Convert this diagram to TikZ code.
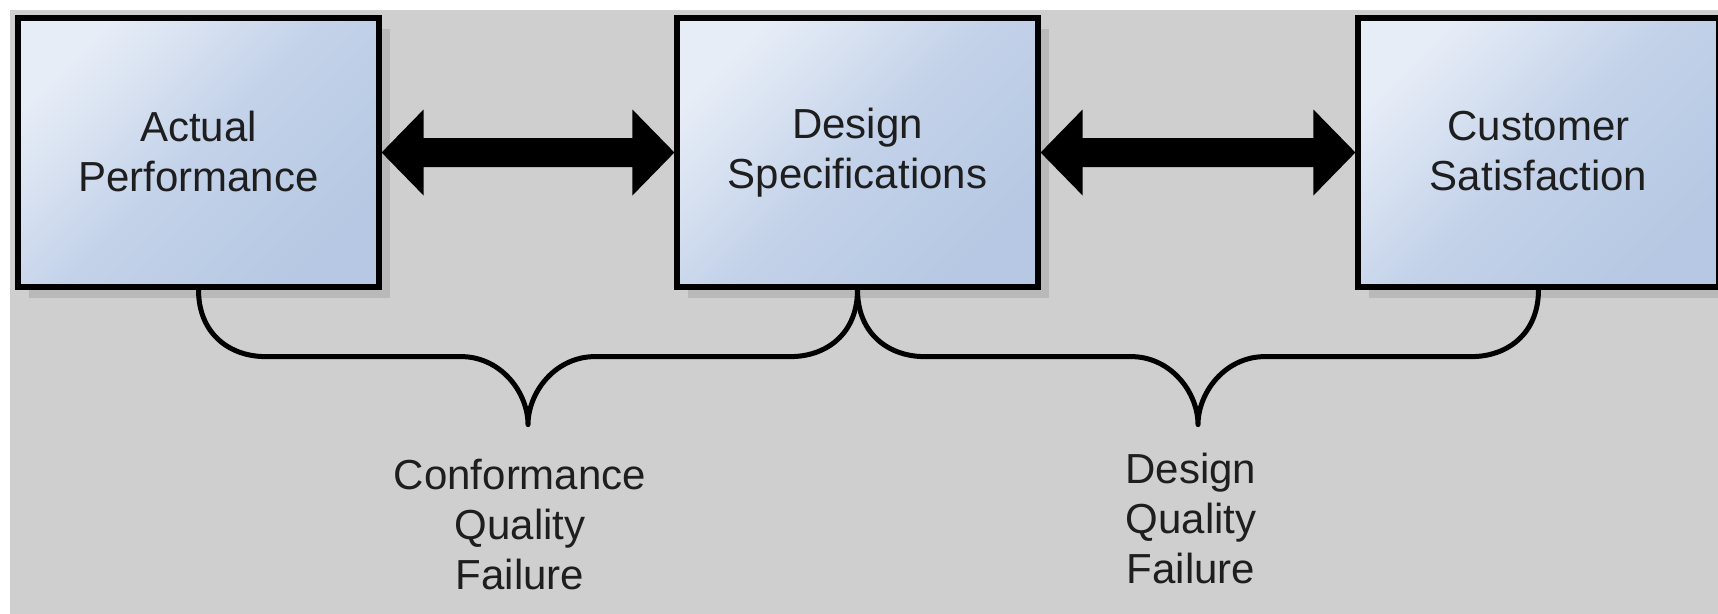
\documentclass[tikz,border=0pt]{standalone}
\usepackage{fontspec}
\setmainfont{Liberation Sans}
\usetikzlibrary{calc,shadows}
\definecolor{bg}{HTML}{CFCFCF}
\definecolor{shadowc}{HTML}{B9B9B9}
\definecolor{boxlight}{HTML}{E7EDF7}
\definecolor{boxmid}{HTML}{C3D2E9}
\definecolor{boxdark}{HTML}{B6C8E3}
\definecolor{txt}{HTML}{1E1E1E}
\begin{document}
\begin{tikzpicture}[x=1pt,y=-1pt,
  lblstrut/.style={execute at begin node={\rule{0pt}{35pt}}, execute at end node={\rule[-12pt]{0pt}{12pt}}},
  boxstrut/.style={execute at begin node={\rule{0pt}{35pt}}, execute at end node={\rule[-3pt]{0pt}{3pt}}},
  qbox/.style={draw=black, line width=5.2pt, minimum width=361pt, minimum height=269pt,
    inner sep=0pt, align=center, font=\fontsize{42}{50}\selectfont, text=txt, boxstrut,
    top color=boxlight, bottom color=boxdark, middle color=boxmid, shading angle=45,
    drop shadow={shadow xshift=11pt, shadow yshift=-11pt, fill=shadowc, opacity=1, draw=none}},
  bigarrow/.style={fill=black},
  brace/.style={draw=black, line width=5pt, line join=round},
  lbl/.style={align=center, font=\fontsize{42}{50}\selectfont, text=txt, inner sep=0pt, lblstrut}]
\useasboundingbox (0,0) rectangle (1718,613);
\clip (0,0) rectangle (1718,613);
\fill[bg] (10,10) rectangle (1730,620);
\node[qbox] (ap) at (198.5,152.5) {Actual\\Performance};
\node[qbox] (ds) at (857.5,152.5) {Design\\Specifications};
\node[qbox] (cs) at (1538.5,152.5) {Customer\\Satisfaction};
\fill[bigarrow] let \p1=(ap.east), \p2=(ds.west) in
  (\x1,\y1) -- (\x1+42pt,\y1+43pt) -- (\x1+42pt,\y1+14.5pt) -- (\x2-42pt,\y2+14.5pt)
  -- (\x2-42pt,\y2+43pt) -- (\x2,\y2) -- (\x2-42pt,\y2-43pt) -- (\x2-42pt,\y2-14.5pt)
  -- (\x1+42pt,\y1-14.5pt) -- (\x1+42pt,\y1-43pt) -- cycle;
\fill[bigarrow] let \p1=(ds.east), \p2=(cs.west) in
  (\x1,\y1) -- (\x1+42pt,\y1+43pt) -- (\x1+42pt,\y1+14.5pt) -- (\x2-42pt,\y2+14.5pt)
  -- (\x2-42pt,\y2+43pt) -- (\x2,\y2) -- (\x2-42pt,\y2-43pt) -- (\x2-42pt,\y2-14.5pt)
  -- (\x1+42pt,\y1-14.5pt) -- (\x1+42pt,\y1-43pt) -- cycle;
\coordinate (t1) at ($(ap.south)!0.5!(ds.south)+(0,135)$);
\coordinate (t2) at ($(ds.south)!0.5!(cs.south)+(0,135)$);
\draw[brace] (ap.south) .. controls +(0,45) and +(-35,0) .. ($(ap.south)+(67,67)$)
  -- ($(t1)+(-67,-68)$) .. controls +(40,0) and +(0,-32) .. (t1)
  .. controls +(0,-32) and +(-40,0) .. ($(t1)+(67,-68)$)
  -- ($(ds.south)+(-67,67)$) .. controls +(35,0) and +(0,45) .. (ds.south);
\draw[brace] (ds.south) .. controls +(0,45) and +(-35,0) .. ($(ds.south)+(67,67)$)
  -- ($(t2)+(-67,-68)$) .. controls +(40,0) and +(0,-32) .. (t2)
  .. controls +(0,-32) and +(-40,0) .. ($(t2)+(67,-68)$)
  -- ($(cs.south)+(-67,67)$) .. controls +(35,0) and +(0,45) .. (cs.south);
\node[lbl] (l1) at ($(t1)+(-8,106)$) {Conformance\\Quality\\Failure};
\node[lbl] (l2) at ($(t2)+(-7,100)$) {Design\\Quality\\Failure};
\end{tikzpicture}
\end{document}
